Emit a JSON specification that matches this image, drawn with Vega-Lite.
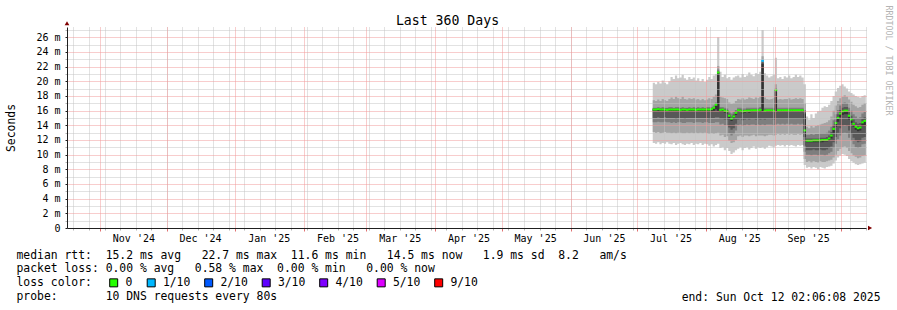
{
  "$schema": "https://vega.github.io/schema/vega-lite/v6.json",
  "width": 799,
  "height": 201,
  "autosize": {"type": "none"},
  "padding": {"left": 67, "top": 27, "right": 31, "bottom": 82},
  "background": "white",
  "title": {"text": "Last 360 Days", "font": "DejaVu Sans Mono", "fontSize": 13.2, "fontWeight": "normal", "color": "black", "anchor": "middle", "frame": "group", "dx": -19, "offset": 4, "dy": 27},
  "config": {
    "view": {"stroke": null},
    "font": "DejaVu Sans Mono",
    "axis": {"labelFont": "DejaVu Sans Mono", "titleFont": "DejaVu Sans Mono", "labelColor": "black", "titleColor": "black", "titleFontWeight": "normal"},
    "legend": {"labelFont": "DejaVu Sans Mono", "titleFont": "DejaVu Sans Mono"}
  },
  "data": {"values": [
    {"date":"2025-07-08","p1":11.6,"p2":13.1,"p3":14.4,"p4":15.0,"p5":15.9,"p6":16.2,"p7":16.3,"p8":16.4,"p9":17.4,"p10":19.8,"median":16.15,"loss":"0"},
    {"date":"2025-07-09","p1":11.5,"p2":13.0,"p3":14.4,"p4":15.0,"p5":15.9,"p6":16.2,"p7":16.3,"p8":16.4,"p9":17.3,"p10":19.6,"median":16.15,"loss":"0"},
    {"date":"2025-07-10","p1":11.7,"p2":13.1,"p3":14.5,"p4":15.1,"p5":15.9,"p6":16.2,"p7":16.3,"p8":16.5,"p9":17.5,"p10":19.9,"median":16.2,"loss":"0"},
    {"date":"2025-07-11","p1":11.4,"p2":12.9,"p3":14.4,"p4":15.0,"p5":15.9,"p6":16.2,"p7":16.3,"p8":16.4,"p9":17.3,"p10":19.7,"median":16.15,"loss":"0"},
    {"date":"2025-07-12","p1":11.6,"p2":13.0,"p3":14.4,"p4":15.0,"p5":15.9,"p6":16.2,"p7":16.3,"p8":16.5,"p9":17.6,"p10":20.1,"median":16.15,"loss":"0"},
    {"date":"2025-07-13","p1":11.5,"p2":13.1,"p3":14.5,"p4":15.1,"p5":15.9,"p6":16.2,"p7":16.3,"p8":16.4,"p9":17.4,"p10":19.8,"median":16.15,"loss":"0"},
    {"date":"2025-07-14","p1":11.7,"p2":13.0,"p3":14.4,"p4":15.0,"p5":15.9,"p6":16.2,"p7":16.3,"p8":16.4,"p9":17.3,"p10":19.6,"median":16.1,"loss":"0"},
    {"date":"2025-07-15","p1":11.5,"p2":13.0,"p3":14.4,"p4":15.0,"p5":15.9,"p6":16.2,"p7":16.3,"p8":16.5,"p9":17.6,"p10":20.0,"median":16.15,"loss":"0"},
    {"date":"2025-07-16","p1":11.4,"p2":12.9,"p3":14.3,"p4":15.0,"p5":15.9,"p6":16.2,"p7":16.3,"p8":16.5,"p9":17.8,"p10":20.6,"median":16.15,"loss":"0"},
    {"date":"2025-07-17","p1":11.6,"p2":13.0,"p3":14.4,"p4":15.0,"p5":15.9,"p6":16.2,"p7":16.3,"p8":16.4,"p9":17.6,"p10":20.3,"median":16.15,"loss":"0"},
    {"date":"2025-07-18","p1":11.3,"p2":12.9,"p3":14.3,"p4":14.9,"p5":15.9,"p6":16.2,"p7":16.3,"p8":16.5,"p9":17.9,"p10":20.8,"median":16.15,"loss":"0"},
    {"date":"2025-07-19","p1":11.5,"p2":13.0,"p3":14.4,"p4":15.0,"p5":15.9,"p6":16.2,"p7":16.3,"p8":16.5,"p9":17.7,"p10":20.4,"median":16.15,"loss":"0"},
    {"date":"2025-07-20","p1":11.6,"p2":13.0,"p3":14.4,"p4":15.0,"p5":15.9,"p6":16.2,"p7":16.3,"p8":16.4,"p9":17.6,"p10":20.5,"median":16.1,"loss":"0"},
    {"date":"2025-07-21","p1":11.4,"p2":12.9,"p3":14.3,"p4":15.0,"p5":15.9,"p6":16.2,"p7":16.3,"p8":16.5,"p9":17.9,"p10":20.9,"median":16.15,"loss":"0"},
    {"date":"2025-07-22","p1":11.3,"p2":12.9,"p3":14.3,"p4":14.9,"p5":15.9,"p6":16.2,"p7":16.3,"p8":16.4,"p9":17.6,"p10":20.4,"median":16.15,"loss":"0"},
    {"date":"2025-07-23","p1":11.5,"p2":13.0,"p3":14.4,"p4":15.0,"p5":15.9,"p6":16.2,"p7":16.3,"p8":16.4,"p9":17.5,"p10":20.2,"median":16.1,"loss":"0"},
    {"date":"2025-07-24","p1":11.4,"p2":12.9,"p3":14.4,"p4":15.0,"p5":15.9,"p6":16.2,"p7":16.3,"p8":16.5,"p9":17.7,"p10":20.6,"median":16.15,"loss":"0"},
    {"date":"2025-07-25","p1":11.6,"p2":13.0,"p3":14.4,"p4":15.0,"p5":15.9,"p6":16.2,"p7":16.3,"p8":16.4,"p9":17.6,"p10":20.3,"median":16.15,"loss":"0"},
    {"date":"2025-07-26","p1":11.3,"p2":12.9,"p3":14.3,"p4":15.0,"p5":15.9,"p6":16.2,"p7":16.3,"p8":16.5,"p9":17.7,"p10":20.5,"median":16.15,"loss":"0"},
    {"date":"2025-07-27","p1":11.5,"p2":13.0,"p3":14.4,"p4":15.0,"p5":15.9,"p6":16.2,"p7":16.3,"p8":16.4,"p9":17.5,"p10":20.1,"median":16.1,"loss":"0"},
    {"date":"2025-07-28","p1":11.4,"p2":12.9,"p3":14.4,"p4":15.0,"p5":15.9,"p6":16.2,"p7":16.3,"p8":16.5,"p9":17.6,"p10":20.4,"median":16.15,"loss":"0"},
    {"date":"2025-07-29","p1":11.6,"p2":13.0,"p3":14.4,"p4":15.0,"p5":15.9,"p6":16.2,"p7":16.3,"p8":16.4,"p9":17.4,"p10":20.0,"median":16.15,"loss":"0"},
    {"date":"2025-07-30","p1":11.3,"p2":12.9,"p3":14.3,"p4":15.0,"p5":15.9,"p6":16.2,"p7":16.3,"p8":16.5,"p9":17.6,"p10":20.3,"median":16.15,"loss":"0"},
    {"date":"2025-07-31","p1":11.5,"p2":13.0,"p3":14.4,"p4":15.0,"p5":15.9,"p6":16.2,"p7":16.3,"p8":16.4,"p9":17.4,"p10":19.9,"median":16.15,"loss":"0"},
    {"date":"2025-08-01","p1":11.4,"p2":12.9,"p3":14.4,"p4":15.0,"p5":15.9,"p6":16.2,"p7":16.3,"p8":16.5,"p9":17.5,"p10":20.2,"median":16.15,"loss":"0"},
    {"date":"2025-08-02","p1":11.2,"p2":12.8,"p3":14.3,"p4":14.9,"p5":15.9,"p6":16.2,"p7":16.3,"p8":16.5,"p9":17.7,"p10":20.6,"median":16.15,"loss":"0"},
    {"date":"2025-08-03","p1":11.4,"p2":12.9,"p3":14.3,"p4":15.0,"p5":15.9,"p6":16.2,"p7":16.3,"p8":16.5,"p9":17.6,"p10":20.3,"median":16.2,"loss":"0"},
    {"date":"2025-08-04","p1":11.1,"p2":12.8,"p3":14.3,"p4":15.0,"p5":16.0,"p6":16.4,"p7":16.5,"p8":16.7,"p9":17.9,"p10":20.8,"median":16.4,"loss":"0"},
    {"date":"2025-08-05","p1":11.3,"p2":12.9,"p3":14.4,"p4":15.1,"p5":16.2,"p6":16.7,"p7":16.9,"p8":17.1,"p9":18.2,"p10":21.0,"median":16.8,"loss":"0"},
    {"date":"2025-08-06","p1":11.5,"p2":13.0,"p3":14.4,"p4":15.1,"p5":16.0,"p6":21.1,"p7":21.3,"p8":21.6,"p9":22.1,"p10":26.0,"median":21.2,"loss":"0"},
    {"date":"2025-08-07","p1":10.9,"p2":12.6,"p3":14.1,"p4":14.9,"p5":15.8,"p6":16.2,"p7":16.3,"p8":16.5,"p9":17.9,"p10":21.3,"median":16.1,"loss":"0"},
    {"date":"2025-08-08","p1":11.0,"p2":12.7,"p3":14.2,"p4":14.9,"p5":15.8,"p6":16.2,"p7":16.3,"p8":16.5,"p9":17.8,"p10":20.6,"median":16.15,"loss":"0"},
    {"date":"2025-08-09","p1":10.6,"p2":12.4,"p3":14.0,"p4":14.8,"p5":15.7,"p6":16.1,"p7":16.2,"p8":16.4,"p9":17.7,"p10":20.9,"median":16.0,"loss":"0"},
    {"date":"2025-08-10","p1":10.9,"p2":12.5,"p3":14.0,"p4":14.8,"p5":15.6,"p6":16.0,"p7":16.1,"p8":16.3,"p9":17.6,"p10":20.4,"median":15.9,"loss":"0"},
    {"date":"2025-08-11","p1":10.5,"p2":11.9,"p3":12.9,"p4":13.7,"p5":15.0,"p6":15.4,"p7":15.6,"p8":15.9,"p9":17.1,"p10":20.6,"median":15.3,"loss":"0"},
    {"date":"2025-08-12","p1":10.1,"p2":11.6,"p3":12.6,"p4":13.4,"p5":14.6,"p6":15.0,"p7":15.2,"p8":15.6,"p9":16.9,"p10":20.2,"median":14.9,"loss":"0"},
    {"date":"2025-08-13","p1":10.3,"p2":11.7,"p3":12.8,"p4":13.6,"p5":14.9,"p6":15.3,"p7":15.5,"p8":15.8,"p9":17.0,"p10":20.5,"median":15.2,"loss":"0"},
    {"date":"2025-08-14","p1":10.6,"p2":12.0,"p3":13.3,"p4":14.2,"p5":15.4,"p6":15.8,"p7":15.9,"p8":16.1,"p9":17.3,"p10":20.7,"median":15.7,"loss":"0"},
    {"date":"2025-08-15","p1":10.8,"p2":12.5,"p3":14.0,"p4":14.8,"p5":15.8,"p6":16.1,"p7":16.2,"p8":16.4,"p9":17.6,"p10":20.8,"median":16.05,"loss":"0"},
    {"date":"2025-08-16","p1":11.0,"p2":12.6,"p3":14.1,"p4":14.9,"p5":15.8,"p6":16.1,"p7":16.2,"p8":16.4,"p9":17.5,"p10":20.5,"median":16.0,"loss":"0"},
    {"date":"2025-08-17","p1":10.6,"p2":12.4,"p3":13.9,"p4":14.7,"p5":15.6,"p6":16.0,"p7":16.1,"p8":16.3,"p9":17.7,"p10":21.0,"median":15.9,"loss":"0"},
    {"date":"2025-08-18","p1":10.9,"p2":12.6,"p3":14.0,"p4":14.8,"p5":15.7,"p6":16.0,"p7":16.1,"p8":16.3,"p9":17.5,"p10":20.6,"median":15.95,"loss":"0"},
    {"date":"2025-08-19","p1":11.0,"p2":12.6,"p3":14.1,"p4":14.9,"p5":15.8,"p6":16.1,"p7":16.2,"p8":16.4,"p9":17.6,"p10":20.8,"median":16.0,"loss":"0"},
    {"date":"2025-08-20","p1":10.7,"p2":12.5,"p3":14.0,"p4":14.8,"p5":15.7,"p6":16.1,"p7":16.2,"p8":16.4,"p9":17.8,"p10":21.2,"median":16.0,"loss":"0"},
    {"date":"2025-08-21","p1":10.9,"p2":12.6,"p3":14.1,"p4":14.9,"p5":15.8,"p6":16.1,"p7":16.2,"p8":16.4,"p9":17.7,"p10":20.9,"median":16.05,"loss":"0"},
    {"date":"2025-08-22","p1":11.1,"p2":12.7,"p3":14.1,"p4":14.9,"p5":15.8,"p6":16.1,"p7":16.2,"p8":16.4,"p9":17.6,"p10":20.7,"median":16.05,"loss":"0"},
    {"date":"2025-08-23","p1":10.8,"p2":12.5,"p3":14.0,"p4":14.8,"p5":15.8,"p6":16.1,"p7":16.2,"p8":16.4,"p9":17.8,"p10":21.1,"median":16.05,"loss":"0"},
    {"date":"2025-08-24","p1":11.0,"p2":12.6,"p3":14.1,"p4":14.9,"p5":15.8,"p6":16.1,"p7":16.2,"p8":16.4,"p9":17.7,"p10":21.0,"median":16.05,"loss":"0"},
    {"date":"2025-08-25","p1":10.9,"p2":12.6,"p3":14.0,"p4":14.8,"p5":15.8,"p6":16.2,"p7":16.3,"p8":16.5,"p9":17.9,"p10":21.3,"median":16.1,"loss":"0"},
    {"date":"2025-08-26","p1":11.0,"p2":12.6,"p3":14.1,"p4":14.9,"p5":15.9,"p6":22.4,"p7":22.6,"p8":22.8,"p9":23.4,"p10":27.0,"median":22.8,"loss":"1/10"},
    {"date":"2025-08-27","p1":10.8,"p2":12.5,"p3":14.0,"p4":14.8,"p5":15.8,"p6":16.1,"p7":16.2,"p8":16.4,"p9":17.8,"p10":21.1,"median":16.0,"loss":"0"},
    {"date":"2025-08-28","p1":11.0,"p2":12.6,"p3":14.1,"p4":14.9,"p5":15.8,"p6":16.1,"p7":16.2,"p8":16.4,"p9":17.6,"p10":20.8,"median":16.05,"loss":"0"},
    {"date":"2025-08-29","p1":11.2,"p2":12.7,"p3":14.1,"p4":14.9,"p5":15.8,"p6":16.1,"p7":16.2,"p8":16.4,"p9":17.5,"p10":20.5,"median":16.05,"loss":"0"},
    {"date":"2025-08-30","p1":11.1,"p2":12.7,"p3":14.1,"p4":14.9,"p5":15.8,"p6":16.1,"p7":16.2,"p8":16.4,"p9":17.6,"p10":20.7,"median":16.05,"loss":"0"},
    {"date":"2025-08-31","p1":11.0,"p2":12.6,"p3":14.0,"p4":14.8,"p5":15.8,"p6":16.1,"p7":16.2,"p8":16.4,"p9":17.7,"p10":20.9,"median":16.0,"loss":"0"},
    {"date":"2025-09-01","p1":11.2,"p2":12.7,"p3":14.1,"p4":14.9,"p5":15.9,"p6":18.6,"p7":18.8,"p8":19.0,"p9":19.6,"p10":23.2,"median":18.8,"loss":"0"},
    {"date":"2025-09-02","p1":11.3,"p2":12.8,"p3":14.2,"p4":14.9,"p5":15.8,"p6":16.1,"p7":16.2,"p8":16.4,"p9":17.5,"p10":20.4,"median":16.05,"loss":"0"},
    {"date":"2025-09-03","p1":11.2,"p2":12.7,"p3":14.1,"p4":14.9,"p5":15.8,"p6":16.1,"p7":16.2,"p8":16.4,"p9":17.6,"p10":20.6,"median":16.05,"loss":"0"},
    {"date":"2025-09-04","p1":11.3,"p2":12.8,"p3":14.2,"p4":14.9,"p5":15.8,"p6":16.1,"p7":16.2,"p8":16.4,"p9":17.5,"p10":20.3,"median":16.05,"loss":"0"},
    {"date":"2025-09-05","p1":11.1,"p2":12.7,"p3":14.1,"p4":14.9,"p5":15.8,"p6":16.1,"p7":16.2,"p8":16.4,"p9":17.6,"p10":20.7,"median":16.05,"loss":"0"},
    {"date":"2025-09-06","p1":11.3,"p2":12.8,"p3":14.2,"p4":14.9,"p5":15.8,"p6":16.1,"p7":16.2,"p8":16.4,"p9":17.6,"p10":20.5,"median":16.05,"loss":"0"},
    {"date":"2025-09-07","p1":11.2,"p2":12.7,"p3":14.1,"p4":14.9,"p5":15.8,"p6":16.1,"p7":16.2,"p8":16.4,"p9":17.7,"p10":20.8,"median":16.05,"loss":"0"},
    {"date":"2025-09-08","p1":11.3,"p2":12.8,"p3":14.2,"p4":14.9,"p5":15.8,"p6":16.1,"p7":16.2,"p8":16.4,"p9":17.5,"p10":20.4,"median":16.05,"loss":"0"},
    {"date":"2025-09-09","p1":11.2,"p2":12.7,"p3":14.1,"p4":14.9,"p5":15.8,"p6":16.1,"p7":16.2,"p8":16.4,"p9":17.6,"p10":20.6,"median":16.05,"loss":"0"},
    {"date":"2025-09-10","p1":11.1,"p2":12.7,"p3":14.1,"p4":14.9,"p5":15.8,"p6":16.1,"p7":16.2,"p8":16.4,"p9":17.7,"p10":20.9,"median":16.05,"loss":"0"},
    {"date":"2025-09-11","p1":11.3,"p2":12.8,"p3":14.2,"p4":14.9,"p5":15.8,"p6":16.1,"p7":16.2,"p8":16.4,"p9":17.6,"p10":20.6,"median":16.05,"loss":"0"},
    {"date":"2025-09-12","p1":11.2,"p2":12.7,"p3":14.1,"p4":14.9,"p5":15.8,"p6":16.1,"p7":16.2,"p8":16.4,"p9":17.7,"p10":20.8,"median":16.05,"loss":"0"},
    {"date":"2025-09-13","p1":11.3,"p2":12.8,"p3":14.2,"p4":14.9,"p5":15.8,"p6":16.1,"p7":16.2,"p8":16.4,"p9":17.6,"p10":20.5,"median":16.05,"loss":"0"},
    {"date":"2025-09-14","p1":8.6,"p2":9.4,"p3":10.4,"p4":11.2,"p5":12.4,"p6":15.6,"p7":15.9,"p8":16.1,"p9":17.0,"p10":19.6,"median":13.3,"loss":"0"},
    {"date":"2025-09-15","p1":8.2,"p2":9.0,"p3":10.0,"p4":10.6,"p5":11.7,"p6":12.0,"p7":12.2,"p8":12.7,"p9":13.8,"p10":15.2,"median":11.9,"loss":"0"},
    {"date":"2025-09-16","p1":8.3,"p2":9.1,"p3":10.0,"p4":10.6,"p5":11.7,"p6":12.0,"p7":12.2,"p8":12.7,"p9":13.6,"p10":14.8,"median":11.9,"loss":"0"},
    {"date":"2025-09-17","p1":8.1,"p2":8.9,"p3":9.9,"p4":10.6,"p5":11.7,"p6":12.0,"p7":12.2,"p8":12.8,"p9":13.9,"p10":15.5,"median":11.9,"loss":"0"},
    {"date":"2025-09-18","p1":8.3,"p2":9.1,"p3":10.0,"p4":10.7,"p5":11.7,"p6":12.0,"p7":12.2,"p8":12.7,"p9":13.7,"p10":15.0,"median":11.95,"loss":"0"},
    {"date":"2025-09-19","p1":8.2,"p2":9.0,"p3":10.0,"p4":10.6,"p5":11.7,"p6":12.0,"p7":12.2,"p8":12.8,"p9":13.9,"p10":15.6,"median":11.95,"loss":"0"},
    {"date":"2025-09-20","p1":8.0,"p2":8.9,"p3":9.9,"p4":10.6,"p5":11.7,"p6":12.0,"p7":12.2,"p8":12.8,"p9":14.0,"p10":15.9,"median":11.95,"loss":"0"},
    {"date":"2025-09-21","p1":8.3,"p2":9.1,"p3":10.0,"p4":10.7,"p5":11.7,"p6":12.0,"p7":12.3,"p8":12.9,"p9":14.1,"p10":16.0,"median":11.95,"loss":"0"},
    {"date":"2025-09-22","p1":8.2,"p2":9.0,"p3":10.0,"p4":10.6,"p5":11.7,"p6":12.0,"p7":12.3,"p8":12.9,"p9":14.2,"p10":16.4,"median":12.0,"loss":"0"},
    {"date":"2025-09-23","p1":8.1,"p2":9.0,"p3":9.9,"p4":10.6,"p5":11.8,"p6":12.1,"p7":12.3,"p8":12.9,"p9":14.3,"p10":16.6,"median":12.0,"loss":"0"},
    {"date":"2025-09-24","p1":8.3,"p2":9.1,"p3":10.0,"p4":10.7,"p5":11.8,"p6":12.1,"p7":12.4,"p8":13.0,"p9":14.4,"p10":16.5,"median":12.0,"loss":"0"},
    {"date":"2025-09-25","p1":8.4,"p2":9.2,"p3":10.2,"p4":10.9,"p5":11.9,"p6":12.3,"p7":12.6,"p8":13.3,"p9":14.7,"p10":16.8,"median":12.2,"loss":"0"},
    {"date":"2025-09-26","p1":8.5,"p2":9.3,"p3":10.4,"p4":11.1,"p5":12.2,"p6":12.7,"p7":13.1,"p8":13.8,"p9":15.2,"p10":17.3,"median":12.6,"loss":"0"},
    {"date":"2025-09-27","p1":8.8,"p2":9.6,"p3":10.9,"p4":11.7,"p5":13.0,"p6":13.6,"p7":14.0,"p8":14.7,"p9":16.0,"p10":18.0,"median":13.5,"loss":"0"},
    {"date":"2025-09-28","p1":9.2,"p2":10.0,"p3":11.5,"p4":12.4,"p5":13.8,"p6":14.4,"p7":14.8,"p8":15.5,"p9":16.7,"p10":18.6,"median":14.3,"loss":"0"},
    {"date":"2025-09-29","p1":9.6,"p2":10.5,"p3":12.1,"p4":13.0,"p5":14.5,"p6":15.1,"p7":15.5,"p8":16.1,"p9":17.3,"p10":19.1,"median":15.0,"loss":"0"},
    {"date":"2025-09-30","p1":9.9,"p2":10.8,"p3":12.6,"p4":13.6,"p5":15.1,"p6":15.7,"p7":16.1,"p8":16.7,"p9":17.7,"p10":19.4,"median":15.6,"loss":"0"},
    {"date":"2025-10-01","p1":10.1,"p2":11.0,"p3":12.9,"p4":13.9,"p5":15.4,"p6":16.0,"p7":16.4,"p8":17.0,"p9":17.9,"p10":19.6,"median":15.9,"loss":"0"},
    {"date":"2025-10-02","p1":10.0,"p2":11.1,"p3":13.0,"p4":14.0,"p5":15.5,"p6":16.1,"p7":16.5,"p8":17.1,"p9":18.1,"p10":19.3,"median":16.0,"loss":"0"},
    {"date":"2025-10-03","p1":9.8,"p2":10.9,"p3":12.9,"p4":13.9,"p5":15.5,"p6":16.1,"p7":16.5,"p8":17.0,"p9":17.9,"p10":19.0,"median":16.0,"loss":"0"},
    {"date":"2025-10-04","p1":9.4,"p2":10.5,"p3":12.3,"p4":13.3,"p5":14.8,"p6":15.4,"p7":15.8,"p8":16.4,"p9":17.5,"p10":18.6,"median":15.3,"loss":"0"},
    {"date":"2025-10-05","p1":9.1,"p2":10.2,"p3":11.9,"p4":12.8,"p5":14.3,"p6":14.9,"p7":15.3,"p8":16.0,"p9":17.2,"p10":18.4,"median":14.8,"loss":"0"},
    {"date":"2025-10-06","p1":8.9,"p2":9.9,"p3":11.4,"p4":12.3,"p5":13.8,"p6":14.3,"p7":14.8,"p8":15.5,"p9":16.8,"p10":18.2,"median":14.2,"loss":"0"},
    {"date":"2025-10-07","p1":8.7,"p2":9.7,"p3":11.0,"p4":11.9,"p5":13.4,"p6":13.9,"p7":14.4,"p8":15.2,"p9":16.6,"p10":18.0,"median":13.8,"loss":"0"},
    {"date":"2025-10-08","p1":8.6,"p2":9.5,"p3":10.9,"p4":11.7,"p5":13.2,"p6":13.7,"p7":14.2,"p8":15.0,"p9":16.4,"p10":17.9,"median":13.6,"loss":"0"},
    {"date":"2025-10-09","p1":8.7,"p2":9.6,"p3":11.0,"p4":11.8,"p5":13.3,"p6":13.8,"p7":14.3,"p8":15.1,"p9":16.5,"p10":17.8,"median":13.7,"loss":"0"},
    {"date":"2025-10-10","p1":8.8,"p2":9.8,"p3":11.4,"p4":12.3,"p5":13.9,"p6":14.5,"p7":14.9,"p8":15.6,"p9":16.8,"p10":18.0,"median":14.4,"loss":"0"},
    {"date":"2025-10-11","p1":8.9,"p2":9.9,"p3":11.5,"p4":12.4,"p5":14.0,"p6":14.7,"p7":15.1,"p8":15.8,"p9":17.0,"p10":18.1,"median":14.6,"loss":"0"},
    {"date":"2025-10-12","p1":8.9,"p2":9.9,"p3":11.5,"p4":12.4,"p5":14.0,"p6":14.7,"p7":15.1,"p8":15.8,"p9":17.0,"p10":18.1,"loss":"0"}
  ]},
  "layer": [
    {
      "mark": {"type": "area", "interpolate": "step-after", "color": "#cacaca"},
      "encoding": {
        "x": {"field": "date", "type": "temporal",
          "scale": {"type": "utc", "domain": [{"year": 2024, "month": 10, "date": 17, "hours": 2, "minutes": 6, "seconds": 8, "utc": true}, {"year": 2025, "month": 10, "date": 12, "hours": 2, "minutes": 6, "seconds": 8, "utc": true}]},
          "axis": {"orient": "bottom", "tickCount": {"interval": "week", "step": 1}, "grid": true, "gridColor": "#c4c4c4", "gridDash": [1, 1], "gridWidth": 1, "ticks": true, "tickColor": "#b4b4b4", "tickSize": 2, "labels": false, "domain": false, "title": null, "zindex": 1}},
        "y": {"field": "p1", "type": "quantitative", "scale": {"domain": [0, 27.4], "nice": false},
          "axis": {"orient": "left", "values": [1, 3, 5, 7, 9, 11, 13, 15, 17, 19, 21, 23, 25, 27], "grid": true, "gridColor": "#c4c4c4", "gridDash": [1, 1], "ticks": true, "tickSize": 2, "tickColor": "#b4b4b4", "labels": false, "domain": false, "title": null, "zindex": 1}},
        "y2": {"field": "p10"}
      }
    },
    {
      "mark": {"type": "area", "interpolate": "step-after", "color": "#a4a4a4"},
      "encoding": {
        "x": {"field": "date", "type": "temporal", "scale": {"type": "utc"},
          "axis": {"orient": "bottom", "tickCount": {"interval": "month", "step": 1}, "grid": true, "gridColor": "#f09a9a", "gridDash": [1, 1], "gridWidth": 1, "ticks": true, "tickColor": "#e07070", "tickSize": 3, "labels": false, "domain": true, "domainColor": "#202020", "domainWidth": 1, "title": null, "zindex": 2}},
        "y": {"field": "p2", "type": "quantitative",
          "axis": {"orient": "left", "values": [0, 2, 4, 6, 8, 10, 12, 14, 16, 18, 20, 22, 24, 26], "grid": true, "gridColor": "#f09a9a", "gridDash": [1, 1], "gridOpacity": {"condition": {"test": "datum.value === 0", "value": 0}, "value": 1}, "ticks": true, "tickSize": 2, "tickColor": "#202020", "labelExpr": "datum.value === 0 ? '0' : datum.value + ' m'", "labelFontSize": 10, "labelPadding": 5, "domain": true, "domainColor": "#202020", "domainWidth": 1, "title": "Seconds", "titleFontSize": 11.4, "titleX": -52.5, "titleY": 100.5, "titleAngle": -90, "titleAlign": "center", "titleBaseline": "alphabetic", "zindex": 2}},
        "y2": {"field": "p9"}
      }
    },
    {
      "mark": {"type": "area", "interpolate": "step-after", "color": "#7e7e7e"},
      "encoding": {
        "x": {"field": "date", "type": "temporal", "scale": {"type": "utc"},
          "axis": {"orient": "bottom",
            "values": [{"year": 2024, "month": 11, "date": 16, "utc": true}, {"year": 2024, "month": 12, "date": 16, "utc": true}, {"year": 2025, "month": 1, "date": 16, "utc": true}, {"year": 2025, "month": 2, "date": 16, "utc": true}, {"year": 2025, "month": 3, "date": 16, "utc": true}, {"year": 2025, "month": 4, "date": 16, "utc": true}, {"year": 2025, "month": 5, "date": 16, "utc": true}, {"year": 2025, "month": 6, "date": 16, "utc": true}, {"year": 2025, "month": 7, "date": 16, "utc": true}, {"year": 2025, "month": 8, "date": 16, "utc": true}, {"year": 2025, "month": 9, "date": 16, "utc": true}],
            "labelExpr": "utcFormat(datum.value, \"%b '%y\")", "labelFontSize": 10, "labelPadding": 5.5, "labelOverlap": false, "labelFlush": false, "labelBound": false,
            "ticks": false, "tickSize": 0, "grid": false, "domain": false,
            "title": ["median rtt:\u00a0\u00a015.2 ms avg\u00a0\u00a0\u00a022.7 ms max\u00a0\u00a011.6 ms min\u00a0\u00a0\u00a014.5 ms now\u00a0\u00a0\u00a01.9 ms sd\u00a0\u00a08.2\u00a0\u00a0\u00a0am/s", "packet loss:\u00a00.00 % avg\u00a0\u00a0\u00a00.58 % max\u00a0\u00a00.00 % min\u00a0\u00a0\u00a00.00 % now", "loss color:", "probe:\u00a0\u00a0\u00a0\u00a0\u00a0\u00a0\u00a010 DNS requests every 80s"],
            "titleFontSize": 11.4, "titleAlign": "left", "titleAnchor": "start", "titleBaseline": "top", "titleX": -51, "titleY": 21, "titleLineHeight": 13.9, "zindex": 1}},
        "y": {"field": "p3", "type": "quantitative",
          "axis": {"orient": "right", "labels": false, "ticks": false, "grid": false, "domain": false, "title": "RRDTOOL / TOBI OETIKER", "titleFontSize": 8.3, "titleColor": "#b4b4b4", "titleAngle": 90, "titleX": 21.5, "titleY": -22, "titleAlign": "left", "titleBaseline": "middle"}},
        "y2": {"field": "p8"}
      }
    },
    {
      "mark": {"type": "area", "interpolate": "step-after", "color": "#585858"},
      "encoding": {
        "x": {"field": "date", "type": "temporal", "scale": {"type": "utc"},
          "axis": {"orient": "bottom", "labels": false, "ticks": false, "grid": false, "domain": false, "title": "end: Sun Oct 12 02:06:08 2025", "titleFontSize": 11.4, "titleAlign": "right", "titleAnchor": "end", "titleBaseline": "alphabetic", "titleX": 813, "titleY": 72}},
        "y": {"field": "p4", "type": "quantitative", "axis": null},
        "y2": {"field": "p7"}
      }
    },
    {
      "mark": {"type": "area", "interpolate": "step-after", "color": "#323232"},
      "encoding": {
        "x": {"field": "date", "type": "temporal", "scale": {"type": "utc"}, "axis": null},
        "y": {"field": "p5", "type": "quantitative", "axis": null},
        "y2": {"field": "p6"}
      }
    },
    {
      "mark": {"type": "tick", "orient": "horizontal", "size": 2.6, "thickness": 2, "xOffset": 1.1, "opacity": 1},
      "encoding": {
        "x": {"field": "date", "type": "temporal", "scale": {"type": "utc"}, "axis": null},
        "y": {"field": "median", "type": "quantitative", "axis": null},
        "color": {"field": "loss", "type": "nominal",
          "scale": {"domain": ["0", "1/10", "2/10", "3/10", "4/10", "5/10", "9/10"], "range": ["#26ff00", "#00b8ff", "#0059ff", "#5e00ff", "#7e00ff", "#dd00ff", "#ff0000"]},
          "legend": {"orient": "none", "legendX": 41, "legendY": 250, "direction": "horizontal", "columns": 7, "title": null, "labelFontSize": 11.4, "labelColor": "black", "labelOffset": 6, "columnPadding": 11.5, "symbolType": "square", "symbolSize": 64, "symbolStrokeColor": "black", "symbolStrokeWidth": 1, "symbolOpacity": 1, "padding": 0,
            "encode": {"symbols": {"update": {"stroke": {"value": "black"}, "strokeWidth": {"value": 1}}}}}}
      }
    },
    {
      "data": {"values": [
        {"date": "2024-10-17T02:06:08Z", "value": 27.9, "dir": "up"},
        {"date": "2025-10-13T22:00:00Z", "value": 0, "dir": "right"}
      ]},
      "mark": {"type": "point", "filled": true, "opacity": 1, "color": "#800000", "size": 22},
      "encoding": {
        "x": {"field": "date", "type": "temporal", "scale": {"type": "utc"}, "axis": null},
        "y": {"field": "value", "type": "quantitative", "axis": null},
        "shape": {"field": "dir", "type": "nominal", "scale": {"domain": ["up", "right"], "range": ["triangle-up", "triangle-right"]}, "legend": null}
      }
    }
  ],
  "resolve": {"axis": {"x": "independent", "y": "independent"}}
}
